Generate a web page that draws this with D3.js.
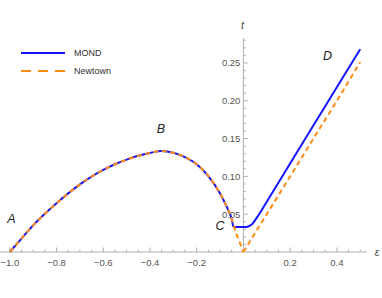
<!DOCTYPE html>
<html><head><meta charset="utf-8">
<script src="https://cdn.jsdelivr.net/npm/d3@7"></script>
<style>body{margin:0;background:#fff}svg{display:block}text{font-family:"Liberation Sans",Arial,sans-serif}</style>
</head><body><svg id="c" width="382" height="298"></svg>
<script>
// Data
const newtonLeftEps = [-1,-0.95,-0.9,-0.85,-0.8,-0.75,-0.7,-0.65,-0.6,-0.55,-0.5,-0.45,-0.4,-0.35,-0.3,-0.25,-0.2,-0.15,-0.1,-0.07,-0.05,-0.04,-0.03,-0.02,-0.01,0];
const newtonLeftT   = [0,0.0178,0.0352,0.0505,0.0645,0.0775,0.0895,0.0998,0.1085,0.1160,0.1222,0.1272,0.1310,0.1335,0.1312,0.1255,0.1160,0.1005,0.0775,0.059,0.0435,0.0335,0.024,0.016,0.008,0];
const newtonRightEps = [0,0.1,0.2,0.3,0.4,0.5];
const newtonRightT   = [0,0.050,0.100,0.150,0.200,0.251];
const mondEps = [-0.042,0.005,0.02,0.034,0.06,0.1,0.2,0.3,0.4,0.5];
const mondT   = [0.0330,0.0330,0.0338,0.0360,0.0465,0.0665,0.1170,0.1675,0.2180,0.2680];
const xTickLabels = [-1.0,-0.8,-0.6,-0.4,-0.2,0.2,0.4];
const yTickLabels = [0.05,0.10,0.15,0.20,0.25];
const pointLabels = [{t:"A",e:-0.993,v:0.038},{t:"B",e:-0.353,v:0.157},{t:"C",e:-0.1,v:0.0295},{t:"D",e:0.36,v:0.254}];
const seriesNames = ["MOND","Newtown"];

const svg = d3.select("#c");
const x = d3.scaleLinear().domain([-1.042,0.527]).range([0,366.5]);
const y = d3.scaleLinear().domain([0,0.283]).range([252,38]);
const axisCol = "#b0b0b0", labCol = "#555";

// x axis
svg.append("line").attr("x1",x(-1.042)).attr("x2",x(0.527)).attr("y1",y(0)).attr("y2",y(0)).attr("stroke",axisCol);
d3.range(-20,11).map(i=>i*0.05).forEach(v=>{
  if (Math.abs(v)<1e-9) return;
  const major = Math.abs(Math.round(v*5)-v*5)<1e-6;
  svg.append("line").attr("x1",x(v)).attr("x2",x(v)).attr("y1",y(0)).attr("y2",y(0)-(major?4.5:2.5)).attr("stroke",axisCol);
});
xTickLabels.forEach(v=>{
  svg.append("text").attr("x",x(v)).attr("y",y(0)+13.5).attr("text-anchor","middle").attr("font-size",9.5).attr("fill",labCol)
   .text((v<0?"\u2212":"")+Math.abs(v).toFixed(1));
});
// y axis
svg.append("line").attr("x1",x(0)).attr("x2",x(0)).attr("y1",y(0)).attr("y2",y(0.283)).attr("stroke",axisCol);
d3.range(1,29).map(i=>i*0.01).forEach(v=>{
  const major = (Math.round(v*100)%5)===0;
  svg.append("line").attr("x1",x(0)).attr("x2",x(0)+(major?4.5:2.5)).attr("y1",y(v)).attr("y2",y(v)).attr("stroke",axisCol);
});
yTickLabels.forEach(v=>{
  svg.append("text").attr("x",x(0)-3).attr("y",y(v)+3.4).attr("text-anchor","end").attr("font-size",9.5).attr("fill",labCol).text(v.toFixed(2));
});
svg.append("text").attr("x",x(0)-1).attr("y",29).attr("font-size",10.5).attr("font-style","italic").attr("fill","#444").attr("text-anchor","middle").text("t");
svg.append("text").attr("x",377).attr("y",y(0)+3.5).attr("font-size",10.5).attr("font-style","italic").attr("fill","#444").attr("text-anchor","middle").text("\u03b5");

const line = d3.line().x(d=>x(d[0])).y(d=>y(d[1])).curve(d3.curveMonotoneX);
const zip = (a,b)=>a.map((v,i)=>[v,b[i]]);
const blue = "#1414ff", orange = "#ff8c14";
// MOND: left part coincides with Newton until flat segment
const mondLeft = zip(newtonLeftEps,newtonLeftT).filter(d=>d[0]<=-0.045);
svg.append("path").attr("d",line(mondLeft.concat(zip(mondEps,mondT)))).attr("fill","none").attr("stroke",blue).attr("stroke-width",2);
svg.append("path").attr("d",line(zip(newtonLeftEps,newtonLeftT)))
  .attr("fill","none").attr("stroke",orange).attr("stroke-width",2).attr("stroke-dasharray","5,3.5");
svg.append("path").attr("d",line(zip(newtonRightEps,newtonRightT))).attr("fill","none").attr("stroke",orange).attr("stroke-width",2).attr("stroke-dasharray","5,3.5");

pointLabels.forEach(p=>{
  svg.append("text").attr("x",x(p.e)).attr("y",y(p.v)).attr("text-anchor","middle").attr("font-size",12.5).attr("font-style","italic").attr("fill","#222").text(p.t);
});

// legend
const lg = svg.append("g");
[[blue,null,53],[orange,"10,7",71]].forEach((s,i)=>{
  lg.append("line").attr("x1",21).attr("x2",65).attr("y1",s[2]).attr("y2",s[2]).attr("stroke",s[0]).attr("stroke-width",2).attr("stroke-dasharray",s[1]);
  lg.append("text").attr("x",74).attr("y",s[2]+3.2).attr("font-size",9).attr("fill","#333").text(seriesNames[i]);
});
</script></body></html>
